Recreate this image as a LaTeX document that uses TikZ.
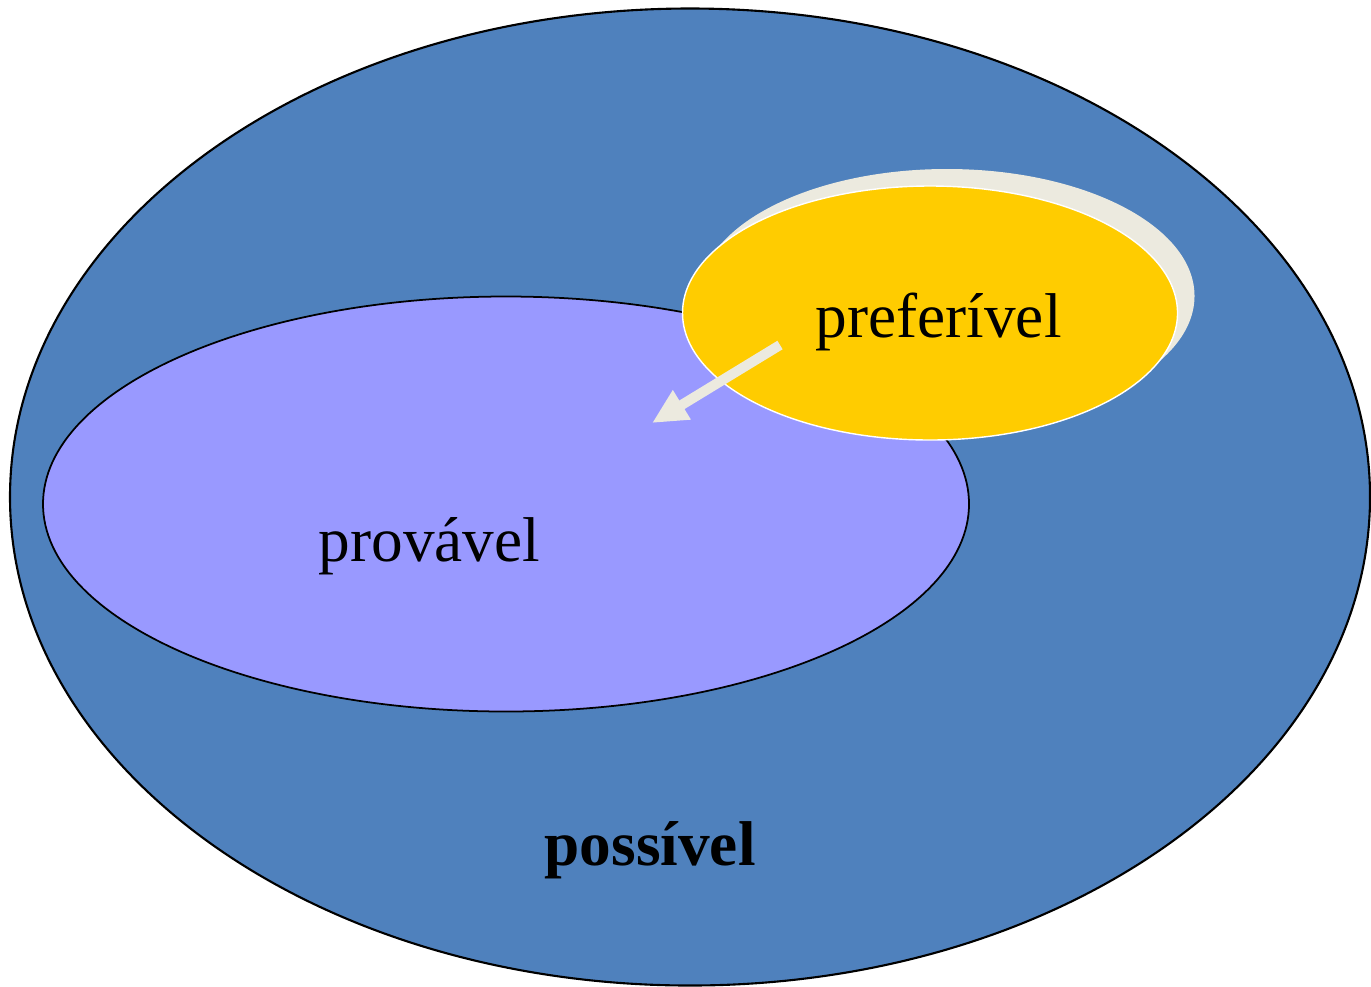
\documentclass[tikz,border=0pt]{standalone}
\usepackage{fontspec}
\setmainfont{Liberation Serif}
\usetikzlibrary{shapes.geometric,arrows.meta}

\definecolor{possivelblue}{HTML}{4F81BD}
\definecolor{provavelviolet}{HTML}{9999FF}
\definecolor{preferivelgold}{HTML}{FFCC00}
\definecolor{shadowgray}{HTML}{ECEADF}

\tikzset{
  set/.style={ellipse, inner sep=0pt, draw=black, line width=0.6pt},
  setlabel/.style={inner sep=0pt, anchor=base west, font=\fontsize{18}{22}\selectfont},
}

\begin{document}
\begin{tikzpicture}[x=0.1mm,y=-0.1mm]

  \useasboundingbox (0,0) rectangle (1371,986);

  \node [set, fill=possivelblue, minimum width=136mm, minimum height=97.7mm] (possivel) at (690,497) {};
  \node [set, fill=provavelviolet, line width=0.5pt, minimum width=92.6mm, minimum height=41.5mm] (provavel) at (506,504) {};
  \node [ellipse, fill=shadowgray, inner sep=0pt, minimum width=49.5mm, minimum height=25.4mm] (sombra) at (947,296) {};
  \node [set, fill=preferivelgold, draw=white, line width=0.4pt, minimum width=49.5mm, minimum height=25.4mm] (preferivel) at (930,313) {};

  \node [setlabel] (preferivel label) at (815,337) {preferível};
  \node [setlabel] (provavel label) at (318,561) {provável};
  \node [setlabel, font=\fontsize{18}{22}\selectfont\bfseries] (possivel label) at (544,865) {possível};

  \coordinate (seta inicio) at (780,345);
  \coordinate (seta fim) at (652,423);
  \draw [-{Triangle[length=3.5mm, width=3.2mm]}, draw=shadowgray, line width=1mm] (seta inicio) -- (seta fim);

\end{tikzpicture}
\end{document}
